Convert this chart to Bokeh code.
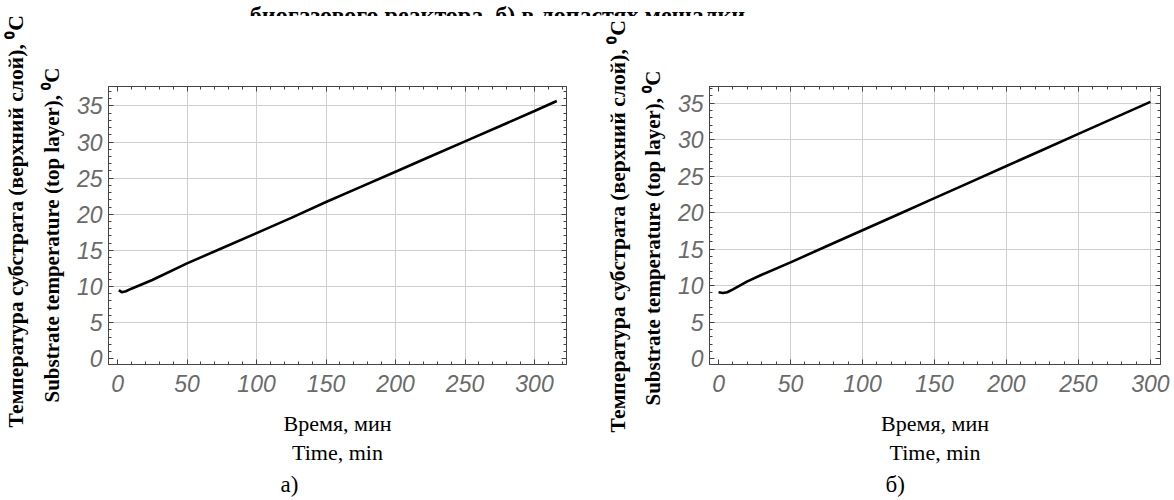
from bokeh.plotting import figure
from bokeh.layouts import column, row
from bokeh.models import LinearAxis, Title, FixedTicker, Range1d, SingleIntervalTicker, CustomJSTickFormatter
from bokeh.core.properties import value
from bokeh.embed import file_html
from bokeh.resources import INLINE

# ---- data ----
time_a = [1, 3, 6, 10, 25, 50, 75, 100, 125, 150, 175, 200, 225, 250, 275, 300, 316]
temp_a = [9.5, 9.2, 9.35, 9.7, 10.9, 13.2, 15.3, 17.4, 19.5, 21.7, 23.8, 25.9, 28.0, 30.1, 32.2, 34.3, 35.7]

time_b = [0, 3, 6, 10, 20, 30, 50, 75, 100, 125, 150, 175, 200, 225, 250, 275, 300]
temp_b = [9.1, 9.0, 9.1, 9.5, 10.6, 11.5, 13.2, 15.4, 17.6, 19.8, 22.0, 24.2, 26.4, 28.6, 30.8, 33.0, 35.2]

grid_x = [50, 100, 150, 200, 250, 300]
grid_y = [5, 10, 15, 20, 25, 30, 35]

title_text = "биогазового реактора, б) в лопастях мешалки."
ylab1 = "Температура субстрата (верхний слой), ⁰C"
ylab2 = "Substrate temperature (top layer), ⁰C"
xlab1 = "Время, мин"
xlab2 = "Time, min"
sub_a = "а)"
sub_b = "б)"

SERIF = "Liberation Serif"
TICK_FONT = "Liberation Sans"
TICK_COLOR = "#6a6a6a"
FRAME = "#444444"


def style_axis(ax, labels=True, standoff=6):
    ax.axis_line_color = FRAME
    ax.major_tick_line_color = FRAME
    ax.minor_tick_line_color = FRAME
    ax.major_tick_in = 5
    ax.major_tick_out = 0
    ax.minor_tick_in = 3
    ax.minor_tick_out = 0
    if labels:
        ax.major_label_text_font = TICK_FONT
        ax.major_label_text_font_style = "italic"
        ax.major_label_text_font_size = "23px"
        ax.major_label_text_color = TICK_COLOR
        ax.major_label_standoff = standoff
    else:
        ax.formatter = CustomJSTickFormatter(code="return ''")
        ax.major_label_standoff = 0


def make(xs, ys, xr, yr, bl, br, bt, sub, sub_off, y1_off, y2_off, y1_so):
    p = figure(width=587, height=484, x_range=Range1d(*xr), y_range=Range1d(*yr),
               toolbar_location=None, output_backend="svg",
               min_border_left=bl, min_border_right=br, min_border_top=bt,
               min_border_bottom=136)
    p.outline_line_color = FRAME
    xt = SingleIntervalTicker(interval=50, num_minor_ticks=5)
    yt = SingleIntervalTicker(interval=5, num_minor_ticks=5)
    xax = p.below[0]
    yax = p.left[0]
    xax.ticker = xt
    yax.ticker = yt
    style_axis(xax, standoff=10)
    style_axis(yax, standoff=6)
    top = LinearAxis(ticker=xt)
    rgt = LinearAxis(ticker=yt)
    style_axis(top, labels=False)
    style_axis(rgt, labels=False)
    p.add_layout(top, "above")
    p.add_layout(rgt, "right")
    p.xgrid.ticker = FixedTicker(ticks=grid_x)
    p.ygrid.ticker = FixedTicker(ticks=grid_y)
    p.grid.grid_line_color = "#cfcfcf"
    p.grid.grid_line_width = 1

    p.line(xs, ys, line_color="black", line_width=2.6)

    # first x label line is the bottom axis label
    xax.axis_label = xlab1
    xax.axis_label_text_font = SERIF
    xax.axis_label_text_font_style = "normal"
    xax.axis_label_text_font_size = "22px"
    xax.axis_label_text_color = "black"
    xax.axis_label_standoff = 16

    t2 = Title(text=ylab2, text_font=SERIF, text_font_style="bold", text_font_size="21px",
               align="left", standoff=19, offset=y2_off, text_color="black")
    t1 = Title(text=ylab1, text_font=SERIF, text_font_style="bold", text_font_size="21.6px",
               align="left", standoff=y1_so, offset=y1_off, text_color="black")
    p.add_layout(t2, "left")
    p.add_layout(t1, "left")

    b2 = Title(text=xlab2, text_font=SERIF, text_font_style="normal", text_font_size="22px",
               align="center", vertical_align="top", standoff=3, text_color="black")
    b3 = Title(text=sub, text_font=SERIF, text_font_style="normal", text_font_size="23px",
               align="left", vertical_align="bottom", standoff=2, offset=sub_off,
               text_color="black")
    p.add_layout(b2, "below")
    p.add_layout(b3, "below")
    return p


pa = make(time_a, temp_a, (-6.5, 323), (-0.8, 37.7), 108, 21, 66, sub_a, 172, -63, -38, 2)
pb = make(time_b, temp_b, (-6.3, 307), (-0.8, 37.3), 122, 14, 70, sub_b, 176, -68, -41, 0)

ph = figure(width=1174, height=16, x_range=Range1d(0, 1174), y_range=Range1d(0, 16),
            toolbar_location=None, output_backend="svg", x_axis_type=None, y_axis_type=None,
            min_border=0)
ph.outline_line_color = None
ph.grid.visible = False
ph.text(x=[500], y=[2], text=[title_text], text_align="center", text_baseline="alphabetic",
        text_font=value(SERIF), text_font_style="bold", text_font_size="24px", text_color="black")

layout = column(ph, row(pa, pb))
open("out.html", "w").write(file_html(layout, INLINE))
